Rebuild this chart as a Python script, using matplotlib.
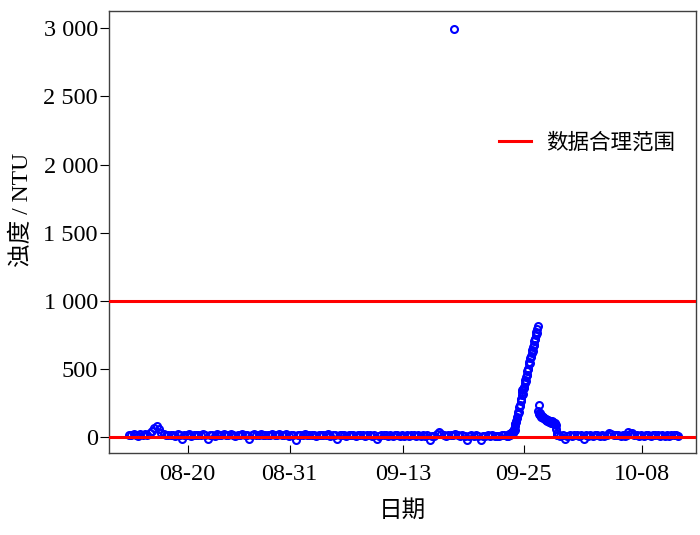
import matplotlib
matplotlib.use('Agg')
import matplotlib.pyplot as plt
import numpy as np

plt.rcParams['font.family'] = ['Liberation Serif', 'Noto Sans CJK SC']

# days since 08-01, turbidity values (NTU)
step = 0.25
base1_start = 12.65
base1 = [20, 16, 24, 18, 14, 22, 17, 26, 19, 30, 45, 66, 82, 62, 36, 24, 17, 21, 15, 19,
         14, 22, 18, -15, 20, 16, 24, 13, 19, 17, 21, 15, 23, 18, -10, 16, 20, 14, 25, 17,
         19, 22, 16, 20, 28, 17, 14, 21, 18, 26, 15, 20, -12, 17, 22, 19, 16, 24, 18, 21,
         17, 20, 23, 15, 19, 28, 18, 16, 22, 14, 20, 17, -18, 21, 18, 15, 23, 19, 16, 20,
         18, 14, 21, 17, 19, 16, 22, 13, 20, 18, -12, 15, 17, 20, 14, 19, 16, 21, 12, 18,
         15, 17, 13, 19, 16, 14, 18, -14, 12, 17, 15, 20, 14, 16, 13, 18, 15, 11, 17, 14,
         16, 13, 18, 15, 12, 17, 14, 19, 13, 16, -16, 14, 11, 24, 38, 22, 18, 14, 20, 16,
         18, 22, 16, 13, 17, 14, -18, 12, 15, 11, 16, 13, -20, 14, 10, 15, 12, 17, 11, 14,
         13, 16, 20]

fine = 0.05
peak_start = 53.5
peak = [14, 18, 12, 20, 16, 24, 20, 28, 26, 33, 30, 40, 36,
        50, 45, 62, 58, 82, 98,
        110, 120, 150, 140, 175, 190, 185, 220, 240, 230, 265, 280, 275, 310, 330, 320,
        355, 370, 365, 400, 420, 410, 445, 460, 455, 490, 505, 500, 535, 550, 545, 580,
        595, 590, 620, 640, 635, 665, 680, 675, 710, 725, 720, 750, 770, 765, 795, 815]

decay = [195, 180, 170, 178, 162, 168, 158, 152, 160, 148, 145, 152, 140, 143, 136, 138,
         130, 134, 126, 128, 122, 126, 118, 120, 115, 122, 112, 116, 108, 118, 110, 103,
         112, 106, 100, 108, 96, 103, 92, 60, 35, 20]

base2_start = 59.0
base2 = [16, 13, 18, -12, 14, 17, 12, 20, 15, 13, 18, -15, 16, 14, 19, 13, 17, 15, 12, 18,
         14, 16, 30, 26, 20, 15, 17, 13, 19, 14, 16, 22, 32, 18, 15, 13, 17, 14, 20, 16,
         13, 18, 15, 17, 12, 16, 14, 19, 13, 17, 15, 18, 14]

outlier_x = [47.75, 54.4, 55.15, 56.9, 66.55]
outlier_y = [2995, 95, 345, 235, 40]

limit_low = 0
limit_high = 1000

tick_pos = [19.0, 30.0, 42.25, 55.3, 68.05]
tick_labels = ['08-20', '08-31', '09-13', '09-25', '10-08']
ytick_pos = [0, 500, 1000, 1500, 2000, 2500, 3000]
ytick_labels = ['0', '500', '1 000', '1 500', '2 000', '2 500', '3 000']

x1 = base1_start + step * np.arange(len(base1))
xp = peak_start + fine * np.arange(len(peak))
xd = xp[-1] + fine * (1 + np.arange(len(decay)))
x2 = base2_start + step * np.arange(len(base2))

x = np.concatenate([x1, xp, xd, x2, outlier_x])
y = np.concatenate([base1, peak, decay, base2, outlier_y])

fig = plt.figure(figsize=(7, 5.35), dpi=100)
ax = fig.add_axes([0.1557, 0.1533, 0.8386, 0.826])

ax.plot(x, y, 'o', mfc='none', mec='blue', ms=5, mew=1.5, zorder=2)
ax.axhline(limit_high, color='red', lw=2.2, zorder=3, label='数据合理范围')
ax.axhline(limit_low, color='red', lw=2.2, zorder=3)

ax.set_xlim(10.5, 73.9)
ax.set_ylim(-114, 3125)
ax.set_xticks(tick_pos)
ax.set_xticklabels(tick_labels)
ax.set_yticks(ytick_pos)
ax.set_yticklabels(ytick_labels)
ax.tick_params(axis='x', direction='in', length=6, labelsize=17.5, pad=8)
ax.tick_params(axis='y', direction='out', length=6.5, labelsize=17.5, pad=1.5)

for s in ax.spines.values():
    s.set_color('#404040')
    s.set_linewidth(1.0)

ax.set_xlabel('日期', fontsize=17, fontweight='light', labelpad=11)
ax.set_ylabel('浊度 / NTU', fontsize=17, fontweight='light')
ax.yaxis.set_label_coords(-0.129, 0.55)

ax.legend(loc='center right', bbox_to_anchor=(0.964, 0.701), frameon=False,
          handlelength=1.5, handletextpad=0.7,
          borderpad=0, borderaxespad=0, prop={'size': 15.5, 'weight': 'light'})

fig.savefig('out.png', dpi=100)
